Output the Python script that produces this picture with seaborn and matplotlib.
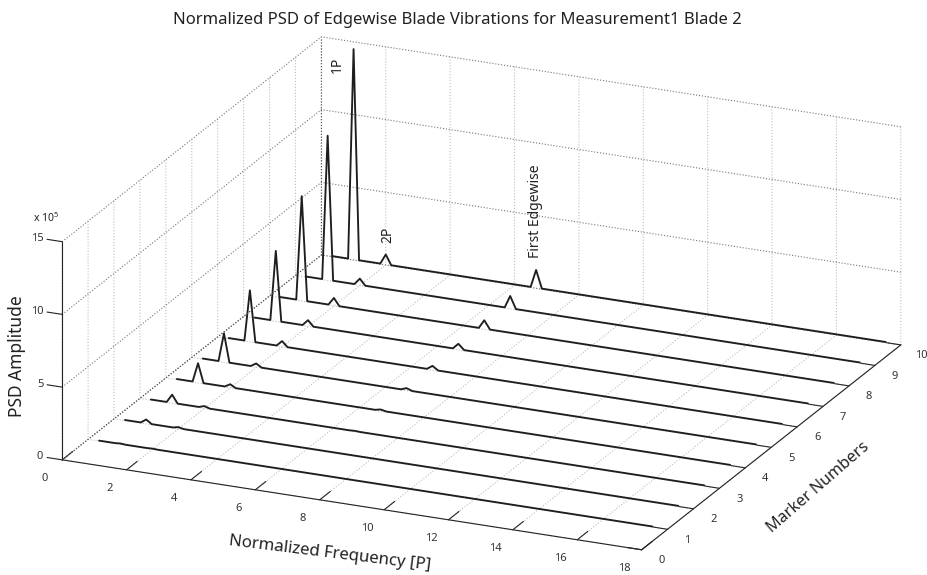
import numpy as np
import pandas as pd
import matplotlib
matplotlib.use('Agg')
import matplotlib.pyplot as plt
import seaborn as sns
from mpl_toolkits.mplot3d import proj3d

# values (PSD in units of 1e5)
markers = [1, 2, 3, 4, 5, 6, 7, 8, 9, 10]
freq = [0.34, 0.83, 1.0, 1.17, 1.83, 2.0, 2.17, 6.5, 6.67, 6.85, 17.53]
baseline = [0.03, 0.04, 0.04, 0.04, 0.04, 0.04, 0.04, 0.04, 0.04, 0.04]
amp_1p = [0.06, 0.30, 0.60, 1.35, 2.00, 3.55, 4.85, 7.20, 9.95, 14.50]
amp_2p = [0.05, 0.12, 0.16, 0.25, 0.27, 0.40, 0.43, 0.55, 0.47, 0.72]
amp_edge = [0.03, 0.04, 0.06, 0.12, 0.18, 0.30, 0.41, 0.62, 0.88, 1.26]

x_ticks = [0, 2, 4, 6, 8, 10, 12, 14, 16, 18]
y_ticks = [0, 1, 2, 3, 4, 5, 6, 7, 8, 9, 10]
z_ticks = [0, 5, 10, 15]

sns.set_theme(style='white')
plt.rcParams['font.family'] = ['Noto Sans', 'DejaVu Sans']
plt.rcParams['mathtext.default'] = 'regular'

fig = plt.figure(figsize=(9.28, 5.75), dpi=100)
ax = fig.add_axes([17.8 / 928, -182 / 575, 903 / 928, 903 / 575], projection='3d')
ax.set_proj_type('ortho')
ax.view_init(elev=20.5, azim=-66.1)
ax.set_box_aspect((634, 640, 233))

# one trace per marker, seaborn draws it and the marker number goes on the depth axis
for i, m in enumerate(markers):
    b = baseline[i]
    psd = [b, b, amp_1p[i], b, b, amp_2p[i], b, b, amp_edge[i], b, b]
    df = pd.DataFrame({'freq': freq, 'psd': psd})
    sns.lineplot(data=df, x='freq', y='psd', color='#1e1e1e', linewidth=1.35,
                 estimator=None, errorbar=None, ax=ax)
    line = ax.lines[-1]
    line.set_data_3d(df['freq'].values, np.full(len(df), m), df['psd'].values)

ax.set_xlim(0, 18, view_margin=0)
ax.set_ylim(0, 10, view_margin=0)
ax.set_zlim(0, 15, view_margin=0)
ax.set_xticks(x_ticks)
ax.set_yticks(y_ticks)
ax.set_zticks(z_ticks)
ax.set_xticklabels([])
ax.set_yticklabels([])
ax.set_zticklabels([])
ax.set_xlabel('')
ax.set_ylabel('')

ax.grid(True)
for axis, col, out in [(ax.xaxis, '#bdbdbd', 0.51), (ax.yaxis, '#bdbdbd', 0.31), (ax.zaxis, '#777777', 0)]:
    axis.set_pane_color((1, 1, 1, 0))
    axis.pane.set_edgecolor('none')
    axis.line.set_color('#222222')
    axis.line.set_linewidth(0.8)
    axis._axinfo['grid'].update(color=col, linestyle=':', linewidth=0.8)
    axis._axinfo['tick'].update(inward_factor=0, outward_factor=out, linewidth={True: 0.8, False: 0.8}, color='#222222')
ax.zaxis.set_ticks_position('lower')

# darker dotted box edges at the back
ax.plot([0, 0], [0, 10], [0, 0], ls=':', lw=0.8, color='#555555')
ax.plot([0, 0], [10, 10], [0, 15], ls=':', lw=0.8, color='#555555')

# need a draw first so the projection and axes box are final
fig.canvas.draw()


def text3d(x, y, z, s, **kw):
    # put a figure text where the 3d point lands on screen
    vx, vy, _ = proj3d.proj_transform(x, y, z, ax.get_proj())
    fx, fy = fig.transFigure.inverted().transform(ax.transData.transform((vx, vy)))
    fig.text(fx, fy, s, **kw)


# tick labels placed by hand, the 3d axis puts them too far off
tick_kw = dict(fontsize=8, color='#333333', va='center')
for t in x_ticks:
    text3d(t + 0.18, -0.883, 0, str(t), ha='center', **tick_kw)
for t in y_ticks:
    text3d(18.88, t - 0.32, 0, str(t), ha='center', **tick_kw)
for t in z_ticks:
    ax.plot([0, -0.47], [0, 0], [t, t], lw=0.8, color='#222222')
    text3d(-0.59, 0, t, str(t), ha='right', **tick_kw)

# peak names
note_kw = dict(rotation=90, ha='center', va='center', fontsize=10, color='#222222')
text3d(0.5, 10, 13.25, '1P', **note_kw)
text3d(2.05, 10, 2.1, '2P', **note_kw)
text3d(6.65, 10, 5.33, 'First Edgewise', **note_kw)

fig.text(457 / 928, 1 - 20 / 575, 'Normalized PSD of Edgewise Blade Vibrations for Measurement1 Blade 2',
         ha='center', va='center', fontsize=12, color='#222222')
fig.text(17 / 928, 1 - 356 / 575, 'PSD Amplitude', rotation=90, ha='center', va='center', fontsize=12.5, color='#222222')
fig.text(330 / 928, 1 - 553 / 575, 'Normalized Frequency [P]', rotation=-7, ha='center', va='center',
         fontsize=12.1, color='#222222')
fig.text(818 / 928, 1 - 487 / 575, 'Marker Numbers', rotation=41, ha='center', va='center', fontsize=11.6,
         color='#222222')
fig.text(46 / 928, 1 - 218 / 575, 'x 10$^{5}$', ha='center', va='center', fontsize=7.5, color='#222222')

fig.savefig('out.png', dpi=100)
